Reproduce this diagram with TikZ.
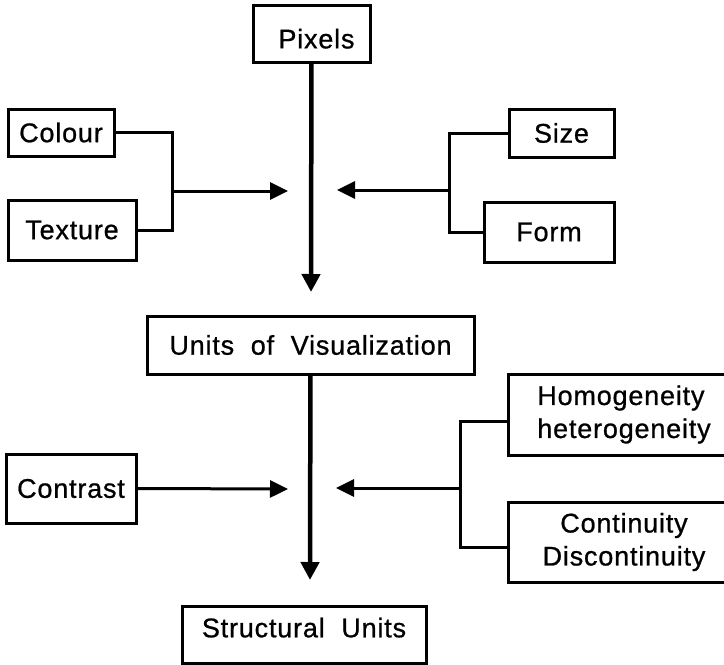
\documentclass[tikz,border=0pt]{standalone}
\usepackage{fontspec}
\setmainfont{Liberation Sans}[LetterSpace=3,FakeBold=0.8]
\usepackage{xcolor}
\usepackage{tikz}
\usetikzlibrary{arrows.meta}

\begin{document}
\begin{tikzpicture}[x=1pt,y=-1pt,
  box/.style={draw=black,line width=3pt,inner sep=0pt,font=\fontsize{27}{33}\selectfont},
  link/.style={black,line width=3pt},
  feed/.style={black,line width=3pt,-{Triangle[length=18pt,width=17pt]}},
  flow/.style={black,line width=4.5pt,-{Triangle[length=18pt,width=18pt]}}]
\useasboundingbox (0,0) rectangle (724,665);
\clip (0,0) rectangle (724,665);
\node [box,minimum width=117pt,minimum height=57pt,text height=30pt] (pix) at (311.5,33.5) {\hspace{10pt}Pixels};
\node [box,minimum width=106pt,minimum height=47pt] (col) at (61,132.5) {Colour};
\node [box,minimum width=128pt,minimum height=60pt] (tex) at (72,230) {Texture};
\node [box,minimum width=105pt,minimum height=48pt] (siz) at (561.5,133) {Size};
\node [box,minimum width=130pt,minimum height=60pt] (frm) at (549,232) {Form};
\node [box,minimum width=327pt,minimum height=58pt] (uov) at (310.5,345) {Units \ of \ Visualization};
\node [box,minimum width=130pt,minimum height=69pt] (con) at (71,488.5) {Contrast};
\node [box,minimum width=232pt,minimum height=81pt,align=left] (hom) at (624,414.5) {Homogeneity\\heterogeneity};
\node [box,minimum width=232pt,minimum height=80pt,align=center] (cnt) at (624,542) {Continuity\\Discontinuity};
\node [box,minimum width=244pt,minimum height=57pt,text depth=14pt] (stu) at (304,634.5) {Structural \ Units};
\coordinate (tipA) at (311,292);
\coordinate (tipB) at (310,580);
\coordinate (jL) at (172,191);
\coordinate (tipL) at (288,191);
\coordinate (jR) at (449,190);
\coordinate (tipR) at (337,190);
\coordinate (tipC) at (288,489);
\coordinate (jR2) at (460,488);
\coordinate (tipD) at (336,488);
\draw [flow] (pix) -- (tipA);
\draw [flow] (uov) -- (tipB);
\draw [link] (col.east) -| (jL) |- (tex.east);
\draw [feed] (jL) -- (tipL);
\draw [link] (siz.west) -| (jR) |- (frm.west);
\draw [feed] (jR) -- (tipR);
\draw [feed] (con.east) -- (tipC);
\draw [link] ([yshift=-6.5pt]hom.west) -| (jR2) |- ([yshift=-5pt]cnt.west);
\draw [feed] (jR2) -- (tipD);
\end{tikzpicture}
\end{document}
